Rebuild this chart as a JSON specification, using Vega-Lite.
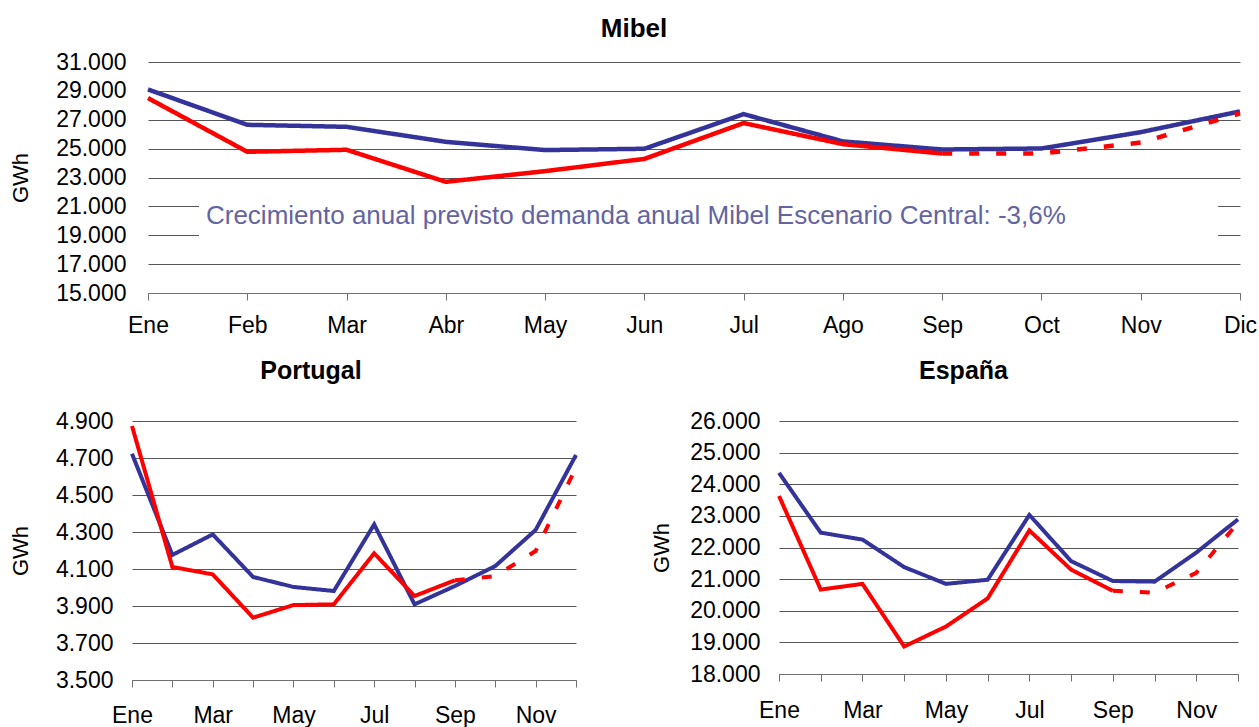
{
  "$schema": "https://vega.github.io/schema/vega-lite/v6.json",
  "padding": {"left": 9, "top": 16, "right": 0, "bottom": 0},
  "config": {
    "font": "Liberation Sans",
    "view": {"stroke": null},
    "axis": {"labelFont": "Liberation Sans", "titleFont": "Liberation Sans", "labelColor": "black", "titleColor": "black"},
    "title": {"font": "Liberation Sans", "color": "black"}
  },
  "datasets": {
    "d": [
      {"p": "Mibel", "s": "blue", "m": 1, "v": 29100},
      {"p": "Mibel", "s": "blue", "m": 2, "v": 26650},
      {"p": "Mibel", "s": "blue", "m": 3, "v": 26510},
      {"p": "Mibel", "s": "blue", "m": 4, "v": 25470},
      {"p": "Mibel", "s": "blue", "m": 5, "v": 24900},
      {"p": "Mibel", "s": "blue", "m": 6, "v": 24990},
      {"p": "Mibel", "s": "blue", "m": 7, "v": 27390},
      {"p": "Mibel", "s": "blue", "m": 8, "v": 25500},
      {"p": "Mibel", "s": "blue", "m": 9, "v": 24940},
      {"p": "Mibel", "s": "blue", "m": 10, "v": 25010},
      {"p": "Mibel", "s": "blue", "m": 11, "v": 26140},
      {"p": "Mibel", "s": "blue", "m": 12, "v": 27580},
      {"p": "Mibel", "s": "red", "m": 1, "v": 28500},
      {"p": "Mibel", "s": "red", "m": 2, "v": 24780},
      {"p": "Mibel", "s": "red", "m": 3, "v": 24920},
      {"p": "Mibel", "s": "red", "m": 4, "v": 22700},
      {"p": "Mibel", "s": "red", "m": 5, "v": 23440},
      {"p": "Mibel", "s": "red", "m": 6, "v": 24290},
      {"p": "Mibel", "s": "red", "m": 7, "v": 26770},
      {"p": "Mibel", "s": "red", "m": 8, "v": 25310},
      {"p": "Mibel", "s": "red", "m": 9, "v": 24660},
      {"p": "Mibel", "s": "redf", "m": 9, "v": 24660},
      {"p": "Mibel", "s": "redf", "m": 10, "v": 24660},
      {"p": "Mibel", "s": "redf", "m": 11, "v": 25420},
      {"p": "Mibel", "s": "redf", "m": 12, "v": 27440},
      {"p": "Portugal", "s": "blue", "m": 1, "v": 4723},
      {"p": "Portugal", "s": "blue", "m": 2, "v": 4176},
      {"p": "Portugal", "s": "blue", "m": 3, "v": 4287},
      {"p": "Portugal", "s": "blue", "m": 4, "v": 4057},
      {"p": "Portugal", "s": "blue", "m": 5, "v": 4003},
      {"p": "Portugal", "s": "blue", "m": 6, "v": 3981},
      {"p": "Portugal", "s": "blue", "m": 7, "v": 4341},
      {"p": "Portugal", "s": "blue", "m": 8, "v": 3909},
      {"p": "Portugal", "s": "blue", "m": 9, "v": 4008},
      {"p": "Portugal", "s": "blue", "m": 10, "v": 4116},
      {"p": "Portugal", "s": "blue", "m": 11, "v": 4311},
      {"p": "Portugal", "s": "blue", "m": 12, "v": 4716},
      {"p": "Portugal", "s": "red", "m": 1, "v": 4873},
      {"p": "Portugal", "s": "red", "m": 2, "v": 4111},
      {"p": "Portugal", "s": "red", "m": 3, "v": 4071},
      {"p": "Portugal", "s": "red", "m": 4, "v": 3837},
      {"p": "Portugal", "s": "red", "m": 5, "v": 3905},
      {"p": "Portugal", "s": "red", "m": 6, "v": 3909},
      {"p": "Portugal", "s": "red", "m": 7, "v": 4185},
      {"p": "Portugal", "s": "red", "m": 8, "v": 3954},
      {"p": "Portugal", "s": "red", "m": 9, "v": 4039},
      {"p": "Portugal", "s": "redf", "m": 9, "v": 4039},
      {"p": "Portugal", "s": "redf", "m": 10, "v": 4062},
      {"p": "Portugal", "s": "redf", "m": 11, "v": 4197},
      {"p": "Portugal", "s": "redf", "m": 12, "v": 4648},
      {"p": "España", "s": "blue", "m": 1, "v": 24360},
      {"p": "España", "s": "blue", "m": 2, "v": 22470},
      {"p": "España", "s": "blue", "m": 3, "v": 22250},
      {"p": "España", "s": "blue", "m": 4, "v": 21380},
      {"p": "España", "s": "blue", "m": 5, "v": 20850},
      {"p": "España", "s": "blue", "m": 6, "v": 20980},
      {"p": "España", "s": "blue", "m": 7, "v": 23030},
      {"p": "España", "s": "blue", "m": 8, "v": 21570},
      {"p": "España", "s": "blue", "m": 9, "v": 20940},
      {"p": "España", "s": "blue", "m": 10, "v": 20920},
      {"p": "España", "s": "blue", "m": 11, "v": 21840},
      {"p": "España", "s": "blue", "m": 12, "v": 22890},
      {"p": "España", "s": "red", "m": 1, "v": 23630},
      {"p": "España", "s": "red", "m": 2, "v": 20670},
      {"p": "España", "s": "red", "m": 3, "v": 20850},
      {"p": "España", "s": "red", "m": 4, "v": 18870},
      {"p": "España", "s": "red", "m": 5, "v": 19500},
      {"p": "España", "s": "red", "m": 6, "v": 20390},
      {"p": "España", "s": "red", "m": 7, "v": 22540},
      {"p": "España", "s": "red", "m": 8, "v": 21300},
      {"p": "España", "s": "red", "m": 9, "v": 20630},
      {"p": "España", "s": "redf", "m": 9, "v": 20630},
      {"p": "España", "s": "redf", "m": 10, "v": 20570},
      {"p": "España", "s": "redf", "m": 11, "v": 21200},
      {"p": "España", "s": "redf", "m": 12, "v": 22790}
    ]
  },
  "spacing": 22,
  "vconcat": [
    {
      "hconcat": [
        {
          "width": 1092,
          "height": 231,
          "title": {"text": "Mibel", "fontSize": 26, "fontWeight": "bold", "anchor": "middle", "frame": "group", "dx": -60, "offset": -17, "baseline": "bottom"},
          "layer": [
            {
              "data": {"values": [{}]},
              "mark": {"type": "rect", "color": "white", "opacity": 1},
              "encoding": {
                "x": {"datum": 1.514, "type": "quantitative", "scale": {"domain": [1, 12], "nice": false, "zero": false},
                  "axis": {"values": [1,2,3,4,5,6,7,8,9,10,11,12], "labelExpr": "['Ene','Feb','Mar','Abr','May','Jun','Jul','Ago','Sep','Oct','Nov','Dic'][datum.value-1]", "title": null, "grid": false, "domainColor": "#707070", "tickColor": "#707070", "tickSize": 7, "labelFontSize": 23, "labelPadding": 14, "labelFlush": false, "labelOverlap": false, "labelBound": false}},
                "x2": {"datum": 11.78},
                "y": {"datum": 17500, "type": "quantitative", "scale": {"domain": [15000, 31000], "nice": false, "zero": false},
                  "axis": {"values": [15000,17000,19000,21000,23000,25000,27000,29000,31000], "labelExpr": "replace(format(datum.value, ','), ',', '.')", "title": "GWh", "titleFontSize": 22, "titleFontWeight": "normal", "titlePadding": 23, "ticks": false, "domain": false, "grid": true, "gridColor": "#555", "labelFontSize": 23, "labelPadding": 22, "labelOverlap": false}},
                "y2": {"datum": 22450}
              }
            },
            {
              "data": {"name": "d"},
              "transform": [{"filter": "datum.p === 'Mibel'"}],
              "mark": {"type": "line", "strokeWidth": 4.5},
              "encoding": {
                "x": {"field": "m", "type": "quantitative", "scale": {"domain": [1, 12], "nice": false, "zero": false},
                  "axis": {"values": [1,2,3,4,5,6,7,8,9,10,11,12], "labelExpr": "['Ene','Feb','Mar','Abr','May','Jun','Jul','Ago','Sep','Oct','Nov','Dic'][datum.value-1]", "title": null, "grid": false, "domainColor": "#707070", "tickColor": "#707070", "tickSize": 7, "labelFontSize": 23, "labelPadding": 14, "labelFlush": false, "labelOverlap": false, "labelBound": false}},
                "y": {"field": "v", "type": "quantitative", "scale": {"domain": [15000, 31000], "nice": false, "zero": false},
                  "axis": {"values": [15000,17000,19000,21000,23000,25000,27000,29000,31000], "labelExpr": "replace(format(datum.value, ','), ',', '.')", "title": "GWh", "titleFontSize": 22, "titleFontWeight": "normal", "titlePadding": 23, "ticks": false, "domain": false, "grid": true, "gridColor": "#555", "labelFontSize": 23, "labelPadding": 22, "labelOverlap": false}},
                "color": {"field": "s", "type": "nominal", "scale": {"domain": ["blue", "red", "redf"], "range": ["#333399", "#ff0000", "#ff0000"]}, "legend": null},
                "strokeDash": {"field": "s", "type": "nominal", "scale": {"domain": ["blue", "red", "redf"], "range": [[1, 0], [1, 0], [10, 17]]}, "legend": null}
              }
            },
            {
              "data": {"values": [{}]},
              "mark": {"type": "text", "align": "left", "baseline": "alphabetic", "fontSize": 26, "color": "#6464a0", "font": "Liberation Sans"},
              "encoding": {
                "x": {"datum": 1.584, "type": "quantitative", "scale": {"domain": [1, 12], "nice": false, "zero": false},
                  "axis": {"values": [1,2,3,4,5,6,7,8,9,10,11,12], "labelExpr": "['Ene','Feb','Mar','Abr','May','Jun','Jul','Ago','Sep','Oct','Nov','Dic'][datum.value-1]", "title": null, "grid": false, "domainColor": "#707070", "tickColor": "#707070", "tickSize": 7, "labelFontSize": 23, "labelPadding": 14, "labelFlush": false, "labelOverlap": false, "labelBound": false}},
                "y": {"datum": 19760, "type": "quantitative", "scale": {"domain": [15000, 31000], "nice": false, "zero": false},
                  "axis": {"values": [15000,17000,19000,21000,23000,25000,27000,29000,31000], "labelExpr": "replace(format(datum.value, ','), ',', '.')", "title": "GWh", "titleFontSize": 22, "titleFontWeight": "normal", "titlePadding": 23, "ticks": false, "domain": false, "grid": true, "gridColor": "#555", "labelFontSize": 23, "labelPadding": 22, "labelOverlap": false}},
                "text": {"value": "Crecimiento anual previsto demanda anual Mibel Escenario Central: -3,6%"}
              }
            }
          ]
        }
      ]
    },
    {
      "spacing": 58,
      "hconcat": [
        {
          "width": 428,
          "height": 259,
          "title": {"text": "Portugal", "fontSize": 25, "fontWeight": "bold", "anchor": "middle", "frame": "group", "dx": -51, "offset": 1, "baseline": "bottom"},
          "data": {"name": "d"},
          "transform": [{"filter": "datum.p === 'Portugal'"}],
          "mark": {"type": "line", "strokeWidth": 4, "clip": false},
          "encoding": {
            "x": {"field": "m", "type": "quantitative", "scale": {"domain": [1, 12], "range": [-16, 428], "nice": false, "zero": false},
              "axis": {"values": [1,2,3,4,5,6,7,8,9,10,11,12], "labelExpr": "datum.value % 2 == 1 ? ['Ene','Feb','Mar','Abr','May','Jun','Jul','Ago','Sep','Oct','Nov','Dic'][datum.value-1] : ''", "title": null, "grid": false, "domainColor": "#707070", "tickColor": "#707070", "tickSize": 7, "labelFontSize": 23, "labelPadding": 17, "labelFlush": false, "labelOverlap": false, "labelBound": false}},
            "y": {"field": "v", "type": "quantitative", "scale": {"domain": [3500, 4900], "nice": false, "zero": false},
              "axis": {"values": [3500,3700,3900,4100,4300,4500,4700,4900], "labelExpr": "replace(format(datum.value, ','), ',', '.')", "title": "GWh", "titleFontSize": 22, "titleFontWeight": "normal", "titlePadding": 23, "ticks": false, "domain": false, "grid": true, "gridColor": "#555", "labelFontSize": 23, "labelPadding": 19, "labelOverlap": false, "offset": 16}},
            "color": {"field": "s", "type": "nominal", "scale": {"domain": ["blue", "red", "redf"], "range": ["#333399", "#ff0000", "#ff0000"]}, "legend": null},
            "strokeDash": {"field": "s", "type": "nominal", "scale": {"domain": ["blue", "red", "redf"], "range": [[1, 0], [1, 0], [9, 14]]}, "legend": null}
          }
        },
        {
          "width": 459,
          "height": 253,
          "title": {"text": "España", "fontSize": 25, "fontWeight": "bold", "anchor": "middle", "frame": "group", "dx": -45, "offset": 1, "baseline": "bottom"},
          "data": {"name": "d"},
          "transform": [{"filter": "datum.p === 'España'"}],
          "mark": {"type": "line", "strokeWidth": 4},
          "encoding": {
            "x": {"field": "m", "type": "quantitative", "scale": {"domain": [1, 12], "nice": false, "zero": false},
              "axis": {"values": [1,2,3,4,5,6,7,8,9,10,11,12], "labelExpr": "datum.value % 2 == 1 ? ['Ene','Feb','Mar','Abr','May','Jun','Jul','Ago','Sep','Oct','Nov','Dic'][datum.value-1] : ''", "title": null, "grid": false, "domainColor": "#707070", "tickColor": "#707070", "tickSize": 7, "labelFontSize": 23, "labelPadding": 18, "labelFlush": false, "labelOverlap": false, "labelBound": false}},
            "y": {"field": "v", "type": "quantitative", "scale": {"domain": [18000, 26000], "nice": false, "zero": false},
              "axis": {"values": [18000,19000,20000,21000,22000,23000,24000,25000,26000], "labelExpr": "replace(format(datum.value, ','), ',', '.')", "title": "GWh", "titleFontSize": 22, "titleFontWeight": "normal", "titlePadding": 16, "ticks": false, "domain": false, "grid": true, "gridColor": "#555", "labelFontSize": 23, "labelPadding": 19, "labelOverlap": false}},
            "color": {"field": "s", "type": "nominal", "scale": {"domain": ["blue", "red", "redf"], "range": ["#333399", "#ff0000", "#ff0000"]}, "legend": null},
            "strokeDash": {"field": "s", "type": "nominal", "scale": {"domain": ["blue", "red", "redf"], "range": [[1, 0], [1, 0], [9, 14]]}, "legend": null}
          }
        }
      ]
    }
  ]
}
